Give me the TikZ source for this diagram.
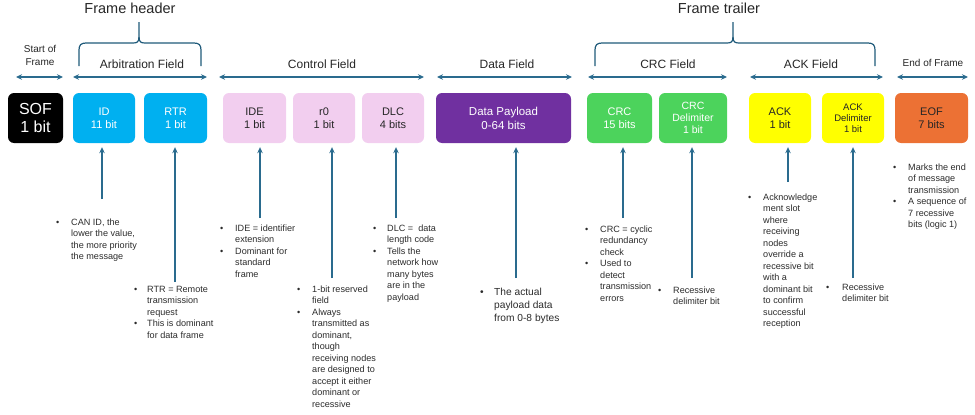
\documentclass[tikz,border=0pt]{standalone}
\usepackage{fontspec}
\setmainfont{Liberation Sans}
\usetikzlibrary{arrows.meta}
\definecolor{lnc}{HTML}{2A6B8E}
\definecolor{brc}{HTML}{1F5A7A}
\definecolor{notec}{HTML}{2B2B2B}
\definecolor{cblue}{HTML}{00B0F0}
\definecolor{cpink}{HTML}{F2CEEF}
\definecolor{cpurple}{HTML}{7030A0}
\definecolor{cgreen}{HTML}{4CD35C}
\definecolor{cyellow}{HTML}{FFFF00}
\definecolor{corange}{HTML}{EC7134}
\begin{document}
\begin{tikzpicture}[x=1pt,y=-1pt,
  box/.style={rounded corners=6pt, minimum height=50pt, inner sep=0pt, align=center, font=\fontsize{11}{13}\selectfont},
  harr/.style={draw=lnc, line width=1.2pt, {Stealth[length=6pt,width=5.5pt]}-{Stealth[length=6pt,width=5.5pt]}},
  varr/.style={draw=lnc, line width=1.2pt, -{Stealth[length=6pt,width=5.5pt]}, shorten >=4pt},
  bracest/.style={draw=brc, line width=1.2pt},
  flabel/.style={inner sep=0pt, text=black!85, font=\fontsize{12}{14}\selectfont},
  slabel/.style={inner sep=0pt, align=center, text=black!85, font=\fontsize{10}{13}\selectfont},
  title/.style={inner sep=0pt, text=black!85, font=\fontsize{14.5}{16}\selectfont},
  note/.style={anchor=base west, inner sep=0pt, text=notec, font=\fontsize{9.1}{11.5}\selectfont},
  bignote/.style={anchor=base west, inner sep=0pt, text=notec, font=\fontsize{10.2}{13}\selectfont}]
\useasboundingbox (0,0) rectangle (975,415);

% titles and braces
\node[title] (t-head) at (130,8) {Frame header};
\node[title] (t-trail) at (719,8) {Frame trailer};
\draw[bracest] (79,66) -- (79,50) .. controls (79,45) and (81,43) .. (86,43) -- (133,43) .. controls (137,43) and (139,42) .. (139,37) -- (139,22);
\draw[bracest] (201,66) -- (201,50) .. controls (201,45) and (199,43) .. (194,43) -- (145,43) .. controls (141,43) and (139,42) .. (139,37);
\draw[bracest] (595,66) -- (595,50) .. controls (595,45) and (597,43) .. (602,43) -- (727,43) .. controls (731,43) and (733,42) .. (733,37) -- (733,22);
\draw[bracest] (875,66) -- (875,50) .. controls (875,45) and (873,43) .. (868,43) -- (739,43) .. controls (735,43) and (733,42) .. (733,37);

% field labels
\node[slabel] (l-sof) at (40,55.5) {Start of\\Frame};
\node[flabel] (l-arb) at (142,64) {Arbitration Field};
\node[flabel] (l-ctl) at (322,64) {Control Field};
\node[flabel] (l-data) at (507,64) {Data Field};
\node[flabel] (l-crc) at (668,64) {CRC Field};
\node[flabel] (l-ack) at (811,64) {ACK Field};
\node[slabel] (l-eof) at (933,63) {End of Frame};

% span arrows
\coordinate (s1a) at (16,77);  \coordinate (s1b) at (63,77);
\coordinate (s2a) at (73,77);  \coordinate (s2b) at (207,77);
\coordinate (s3a) at (219,77); \coordinate (s3b) at (424,77);
\coordinate (s4a) at (437,77); \coordinate (s4b) at (572,77);
\coordinate (s5a) at (588,77); \coordinate (s5b) at (727,77);
\coordinate (s6a) at (750,77); \coordinate (s6b) at (883,77);
\coordinate (s7a) at (897,77); \coordinate (s7b) at (968,77);
\draw[harr] (s1a) -- (s1b);
\draw[harr] (s2a) -- (s2b);
\draw[harr] (s3a) -- (s3b);
\draw[harr] (s4a) -- (s4b);
\draw[harr] (s5a) -- (s5b);
\draw[harr] (s6a) -- (s6b);
\draw[harr] (s7a) -- (s7b);

% boxes
\node[box, fill=black, text=white, minimum width=55pt, font=\fontsize{16}{18}\selectfont] (sof) at (35.5,118) {SOF\\1 bit};
\node[box, fill=cblue, text=white, minimum width=62pt] (id) at (104,118) {ID\\11 bit};
\node[box, fill=cblue, text=white, minimum width=63pt] (rtr) at (175.5,118) {RTR\\1 bit};
\node[box, fill=cpink, text=black!85, minimum width=63pt] (ide) at (254.5,118) {IDE\\1 bit};
\node[box, fill=cpink, text=black!85, minimum width=62pt] (r0) at (324,118) {r0\\1 bit};
\node[box, fill=cpink, text=black!85, minimum width=62pt] (dlc) at (393,118) {DLC\\4 bits};
\node[box, fill=cpurple, text=white, minimum width=135pt, font=\fontsize{11.5}{14}\selectfont] (data) at (503.5,118) {Data Payload\\0-64 bits};
\node[box, fill=cgreen, text=white, minimum width=65pt] (crc) at (619.5,118) {CRC\\15 bits};
\node[box, fill=cgreen, text=white, minimum width=68pt, font=\fontsize{10.5}{12}\selectfont] (crcd) at (693,118) {CRC\\Delimiter\\1 bit};
\node[box, fill=cyellow, text=black!85, minimum width=62pt] (ack) at (780,118) {ACK\\1 bit};
\node[box, fill=cyellow, text=black!85, minimum width=62pt, font=\fontsize{9.5}{11}\selectfont] (ackd) at (853,118) {ACK\\Delimiter\\1 bit};
\node[box, fill=corange, text=black!85, minimum width=73pt] (eof) at (931.5,118) {EOF\\7 bits};

% vertical pointers
\coordinate (v-id) at (102,199);
\coordinate (v-rtr) at (175,282);
\coordinate (v-ide) at (260,218);
\coordinate (v-r0) at (332,278);
\coordinate (v-dlc) at (396,218);
\coordinate (v-data) at (516,278);
\coordinate (v-crc) at (623,218);
\coordinate (v-crcd) at (692,278);
\coordinate (v-ack) at (788,182);
\coordinate (v-ackd) at (853,278);
\draw[varr] (v-id) -- (v-id |- id.south);
\draw[varr] (v-rtr) -- (v-rtr |- rtr.south);
\draw[varr] (v-ide) -- (v-ide |- ide.south);
\draw[varr] (v-r0) -- (v-r0 |- r0.south);
\draw[varr] (v-dlc) -- (v-dlc |- dlc.south);
\draw[varr] (v-data) -- (v-data |- data.south);
\draw[varr] (v-crc) -- (v-crc |- crc.south);
\draw[varr] (v-crcd) -- (v-crcd |- crcd.south);
\draw[varr] (v-ack) -- (v-ack |- ack.south);
\draw[varr] (v-ackd) -- (v-ackd |- ackd.south);

% notes
\node[note] (n-id) at (56,225) {\begin{tabular}[t]{@{}p{15pt}@{}l@{}}
\textbullet & CAN ID, the\\ & lower the value,\\ & the more priority\\ & the message\end{tabular}};
\node[note] (n-rtr) at (134,292) {\begin{tabular}[t]{@{}p{13pt}@{}l@{}}
\textbullet & RTR = Remote\\ & transmission\\ & request\\
\textbullet & This is dominant\\ & for data frame\end{tabular}};
\node[note] (n-ide) at (220,231) {\begin{tabular}[t]{@{}p{15pt}@{}l@{}}
\textbullet & IDE = identifier\\ & extension\\
\textbullet & Dominant for\\ & standard\\ & frame\end{tabular}};
\node[note] (n-r0) at (297,292) {\begin{tabular}[t]{@{}p{15pt}@{}l@{}}
\textbullet & 1-bit reserved\\ & field\\
\textbullet & Always\\ & transmitted as\\ & dominant,\\ & though\\ & receiving nodes\\ & are designed to\\ & accept it either\\ & dominant or\\ & recessive\end{tabular}};
\node[note] (n-dlc) at (373,231) {\begin{tabular}[t]{@{}p{14pt}@{}l@{}}
\textbullet & DLC = \ data\\ & length code\\
\textbullet & Tells the\\ & network how\\ & many bytes\\ & are in the\\ & payload\end{tabular}};
\node[bignote] (n-data) at (480,295) {\begin{tabular}[t]{@{}p{14pt}@{}l@{}}
\textbullet & The actual\\ & payload data\\ & from 0-8 bytes\end{tabular}};
\node[note] (n-crc) at (585,232) {\begin{tabular}[t]{@{}p{15pt}@{}l@{}}
\textbullet & CRC = cyclic\\ & redundancy\\ & check\\
\textbullet & Used to\\ & detect\\ & transmission\\ & errors\end{tabular}};
\node[note] (n-crcd) at (658,293) {\begin{tabular}[t]{@{}p{15pt}@{}l@{}}
\textbullet & Recessive\\ & delimiter bit\end{tabular}};
\node[note] (n-ack) at (748,200) {\begin{tabular}[t]{@{}p{15pt}@{}l@{}}
\textbullet & Acknowledge\\ & ment slot\\ & where\\ & receiving\\ & nodes\\ & override a\\ & recessive bit\\ & with a\\ & dominant bit\\ & to confirm\\ & successful\\ & reception\end{tabular}};
\node[note] (n-ackd) at (826,290) {\begin{tabular}[t]{@{}p{16pt}@{}l@{}}
\textbullet & Recessive\\ & delimiter bit\end{tabular}};
\node[note] (n-eof) at (893,170) {\begin{tabular}[t]{@{}p{15pt}@{}l@{}}
\textbullet & Marks the end\\ & of message\\ & transmission\\
\textbullet & A sequence of\\ & 7 recessive\\ & bits (logic 1)\end{tabular}};
\end{tikzpicture}
\end{document}
